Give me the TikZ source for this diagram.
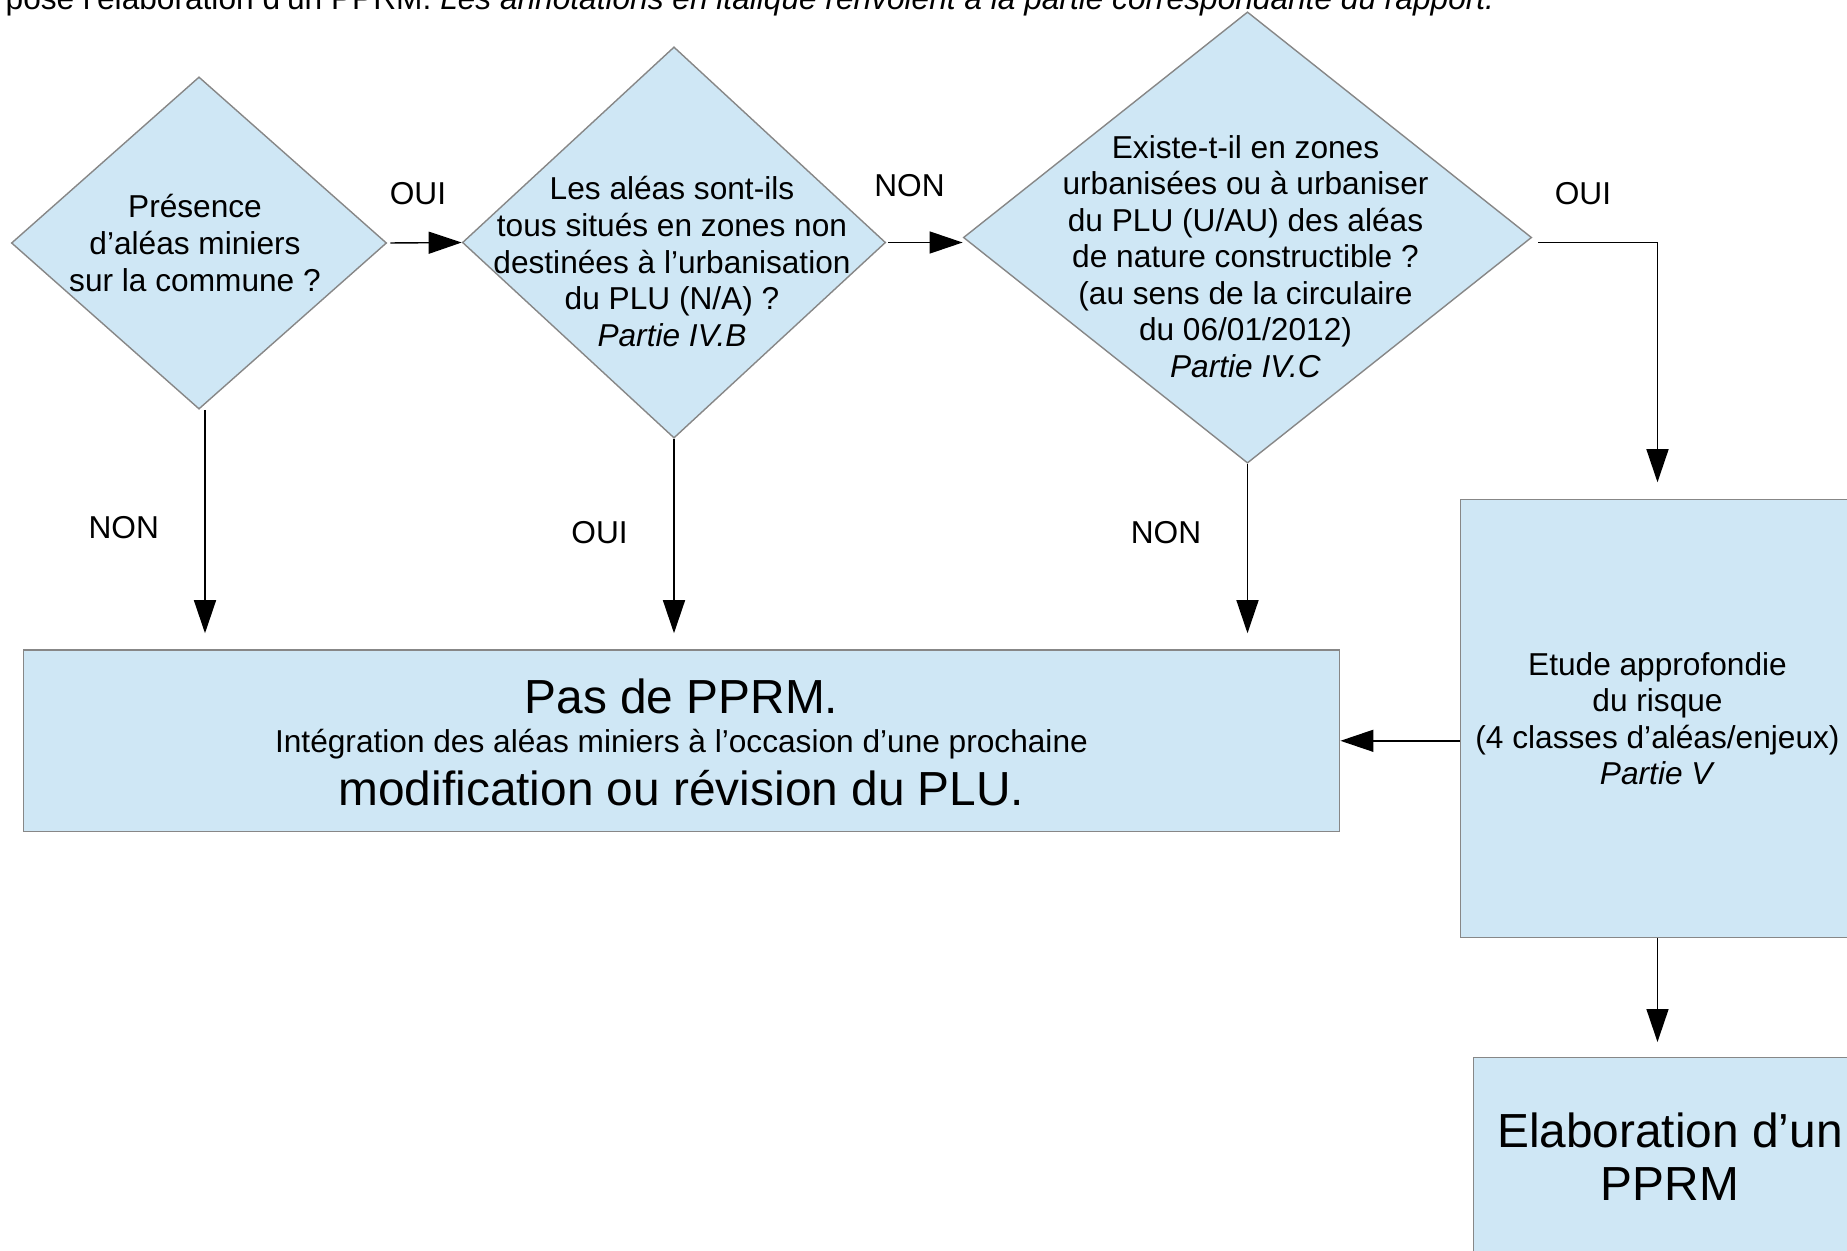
\documentclass[tikz,border=0pt]{standalone}
\usepackage{fontspec}
\setmainfont{Liberation Sans}
\usepackage{tikz}
\usetikzlibrary{arrows.meta,shapes.geometric,positioning}
\definecolor{boxblue}{RGB}{207,231,245}
\definecolor{boxline}{RGB}{135,135,135}

\begin{document}
\begin{tikzpicture}[x=0.01cm, y=-0.01cm, font=\fontsize{9}{10.4}\selectfont,
	question/.style={diamond, draw=boxline, fill=boxblue, line width=0.4pt, inner sep=0pt},
	panel/.style={rectangle, draw=boxline, fill=boxblue, line width=0.4pt, inner sep=0pt, align=center},
	txt/.style={align=center, inner sep=0pt},
	big/.style={font=\fontsize{13.6}{15.1}\selectfont},
	arr/.style={-{Triangle[length=0.33cm, width=0.22cm]}, line width=0.4pt}]
		\clip (0,0) rectangle (1847,1251);

		\node[anchor=base west, inner sep=0pt] (intro) at (5,9) {pose l’élaboration d’un PPRM. \textit{Les annotations en italique renvoient à la partie correspondante du rapport.}};

		\node[question, minimum width=3.75cm, minimum height=3.32cm] (q1) at (199,243) {};
		\node[txt] (q1txt) at ([shift={(-4,0)}]q1) {Présence\\d’aléas miniers\\sur la commune ?};
		\node[question, minimum width=4.23cm, minimum height=3.91cm] (q2) at (674,242.5) {};
		\node[txt] (q2txt) at ([shift={(-2,19)}]q2) {Les aléas sont-ils\\tous situés en zones non\\destinées à l’urbanisation\\du PLU (N/A) ?\\\textit{Partie IV.B}};
		\node[question, minimum width=5.68cm, minimum height=4.51cm] (q3) at (1247.5,237.5) {};
		\node[txt] (q3txt) at ([shift={(-2,19)}]q3) {Existe-t-il en zones\\urbanisées ou à urbaniser\\du PLU (U/AU) des aléas\\de nature constructible ?\\(au sens de la circulaire\\du 06/01/2012)\\\textit{Partie IV.C}};

		\node[panel, minimum width=13.157cm, minimum height=1.816cm] (pas) at (681.5,740.8) {};
		\node[big, anchor=base, inner sep=0pt] (pas1) at (681.5,713) {Pas de PPRM.};
		\node[anchor=base, inner sep=0pt] (pas2) at (681.5,752) {Intégration des aléas miniers à l’occasion d’une prochaine};
		\node[big, anchor=base, inner sep=0pt] (pas3) at (681.5,805) {modification ou révision du PLU.};

		\node[panel, minimum width=3.94cm, minimum height=4.38cm] (etude) at (1657.5,718.6) {Etude approfondie\\du risque\\(4 classes d’aléas/enjeux)\\\textit{Partie V}};
		\node[panel, big, minimum width=3.93cm, minimum height=1.984cm] (elab) at (1670,1157) {Elaboration d’un\\PPRM};

		\node (oui1) at (418,194) {OUI};
		\node (non1) at (909.5,186) {NON};
		\node (oui2) at (1583,194) {OUI};
		\node (non2) at (123.7,528) {NON};
		\node (oui3) at (599.6,532.5) {OUI};
		\node (non3) at (1166,532.5) {NON};

		\draw[arr, shorten <=0.03cm] (q1.east) -- (q2.west);
		\draw[arr, shorten <=0.02cm] (q2.east) -- (q2.east -| q3.west);
		\draw[arr, shorten >=0.165cm] ([shift={(6,5)}]q3.east) -| (etude.north);
		\draw[arr, shorten >=0.16cm] ([shift={(6,0)}]q1.south) -- ([shift={(6,0)}]q1.south |- pas.north);
		\draw[arr, shorten >=0.16cm] (q2.south) -- (q2.south |- pas.north);
		\draw[arr, shorten >=0.16cm] (q3.south) -- (q3.south |- pas.north);
		\draw[arr] (etude.west |- pas.east) -- (pas.east);
		\draw[arr, shorten >=0.15cm] (etude.south) -- (etude.south |- elab.north);
\end{tikzpicture}
\end{document}
